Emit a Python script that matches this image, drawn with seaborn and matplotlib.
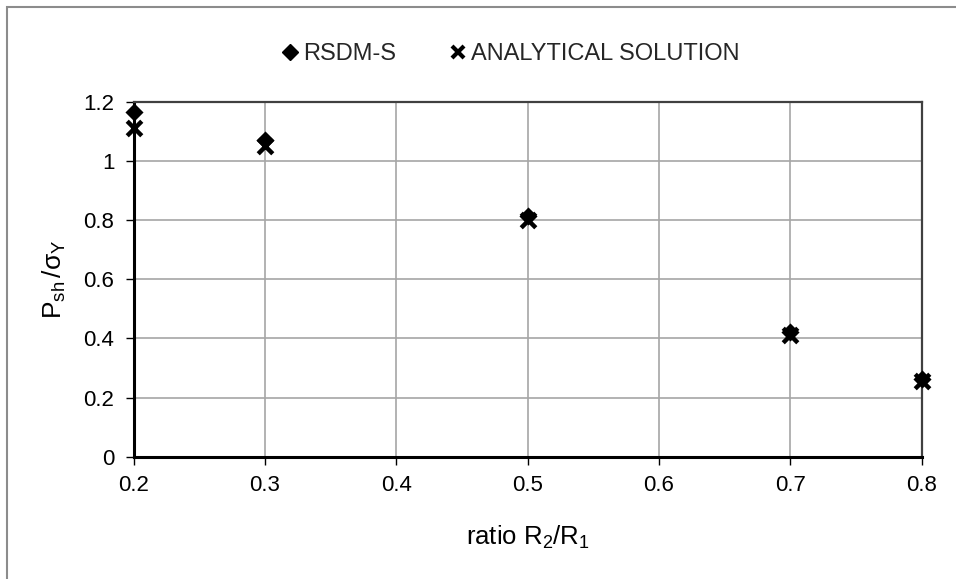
import matplotlib
matplotlib.use("Agg")
import matplotlib.pyplot as plt
from matplotlib.lines import Line2D
from matplotlib.patches import Rectangle
import pandas as pd
import seaborn as sns

# Shakedown pressure ratio against radius ratio
ratio = [0.2, 0.3, 0.5, 0.7, 0.8]
rsdm_s = [1.165, 1.072, 0.815, 0.42, 0.262]
analytical = [1.11, 1.05, 0.80, 0.41, 0.255]
x_ticks = [0.2, 0.3, 0.4, 0.5, 0.6, 0.7, 0.8]
y_ticks = [0, 0.2, 0.4, 0.6, 0.8, 1.0, 1.2]
y_tick_labels = ["0", "0.2", "0.4", "0.6", "0.8", "1", "1.2"]

sns.set_theme(style="white")
plt.rcParams["font.family"] = ["Liberation Sans", "DejaVu Sans"]
plt.rcParams["mathtext.fontset"] = "custom"
plt.rcParams["mathtext.rm"] = "Liberation Sans"
plt.rcParams["mathtext.it"] = "Liberation Sans"

df = pd.DataFrame({"ratio": ratio, "RSDM-S": rsdm_s, "ANALYTICAL SOLUTION": analytical})

fig = plt.figure(figsize=(9.56, 5.79), dpi=100)
fig.patch.set_facecolor("white")
# chart frame
fig.add_artist(Rectangle((7 / 956, -0.1), 1.2, 1 - 7 / 579 + 0.1, transform=fig.transFigure,
                         fill=False, edgecolor="#8c8c8c", linewidth=1.5))

ax = fig.add_axes([133.7 / 956, 1 - 456.7 / 579, (921.7 - 133.7) / 956, (456.7 - 101.7) / 579])

sns.scatterplot(data=df, x="ratio", y="ANALYTICAL SOLUTION", ax=ax, marker="x", s=110,
                color="black", linewidth=3.2, zorder=4, clip_on=False)
sns.scatterplot(data=df, x="ratio", y="RSDM-S", ax=ax, marker="D", s=85,
                color="black", edgecolor="black", linewidth=0, zorder=5, clip_on=False)

ax.set_xlim(0.2, 0.8)
ax.set_ylim(0, 1.2)
ax.set_xticks(x_ticks)
ax.set_xticklabels([f"{v:.1f}" for v in x_ticks])
ax.set_yticks(y_ticks)
ax.set_yticklabels(y_tick_labels)
ax.grid(True, color="#a6a6a6", linewidth=1.2)
ax.set_axisbelow(True)

for side in ("left", "bottom"):
    ax.spines[side].set_color("black")
    ax.spines[side].set_linewidth(2.2)
for side in ("top", "right"):
    ax.spines[side].set_color("#404040")
    ax.spines[side].set_linewidth(1.6)

ax.tick_params(axis="both", labelsize=16, colors="black", left=True, bottom=True)
ax.tick_params(axis="y", direction="out", length=6, width=1, pad=8)
ax.tick_params(axis="x", direction="out", length=6, width=1, pad=7)

ax.set_xlabel(r"ratio $\mathregular{R_2/R_1}$", fontsize=18.5, color="black", labelpad=20)
ax.set_ylabel(r"$\mathregular{P_{sh}\,/σ_Y}$", fontsize=19, color="black", labelpad=11)

handles = [
    Line2D([], [], linestyle="none", marker="D", markersize=8, color="black"),
    Line2D([], [], linestyle="none", marker="x", markersize=9, markeredgewidth=3, color="black"),
]
fig.legend(handles, ["RSDM-S", "ANALYTICAL SOLUTION"], loc="center", bbox_to_anchor=(0.532, 1 - 54 / 579),
           ncol=2, frameon=False, fontsize=17, handletextpad=0.05, columnspacing=2.13, handlelength=1.0)

fig.savefig("out.png", dpi=100, facecolor="white")
